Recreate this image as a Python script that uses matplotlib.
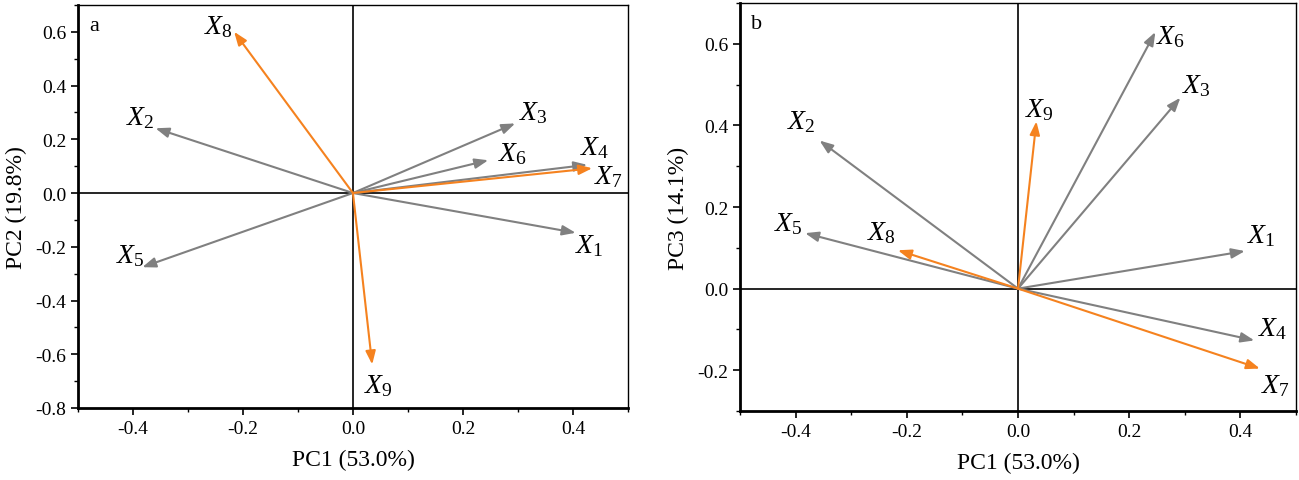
import matplotlib
matplotlib.use("Agg")
import matplotlib.pyplot as plt
from matplotlib.ticker import MultipleLocator

plt.rcParams['font.family'] = ['Liberation Serif', 'DejaVu Serif']
plt.rcParams['mathtext.fontset'] = 'custom'
plt.rcParams['mathtext.it'] = 'Liberation Serif:italic'
plt.rcParams['mathtext.rm'] = 'Liberation Serif'
plt.rcParams['axes.unicode_minus'] = False

# loadings
names = ["X1", "X2", "X3", "X4", "X5", "X6", "X7", "X8", "X9"]
pc1_a = [0.405, -0.359, 0.295, 0.426, -0.383, 0.246, 0.435, -0.216, 0.035]
pc2_a = [-0.148, 0.241, 0.259, 0.105, -0.276, 0.122, 0.092, 0.600, -0.638]
pc1_b = [0.408, -0.357, 0.292, 0.425, -0.383, 0.247, 0.435, -0.216, 0.033]
pc3_b = [0.092, 0.363, 0.468, -0.127, 0.136, 0.629, -0.196, 0.094, 0.410]
# label positions (data units)
lab_a = [(0.43, -0.195), (-0.386, 0.281), (0.329, 0.30), (0.439, 0.17), (-0.405, -0.233),
         (0.29, 0.15), (0.464, 0.064), (-0.244, 0.62), (0.046, -0.715)]
lab_b = [(0.437, 0.13), (-0.39, 0.41), (0.32, 0.50), (0.458, -0.098), (-0.413, 0.16),
         (0.275, 0.62), (0.463, -0.237), (-0.246, 0.139), (0.039, 0.44)]
orange_vars = ["X7", "X8", "X9"]

GREY = "#808080"
ORANGE = "#f5821f"

fig = plt.figure(figsize=(12.99, 4.81), dpi=100)
ax1 = fig.add_axes([0.060, 0.1497, 0.4234, 0.838])
ax2 = fig.add_axes([0.5697, 0.1435, 0.428, 0.848])


def draw(ax, xs, ys, labs, ylabel, tag, ylim, ymajor):
    ax.set_xlim(-0.5, 0.5)
    ax.set_ylim(*ylim)
    ax.axhline(0, color="black", lw=1.2, zorder=1)
    ax.axvline(0, color="black", lw=1.2, zorder=1)
    for n, x, y, (lx, ly) in zip(names, xs, ys, labs):
        c = ORANGE if n in orange_vars else GREY
        ax.annotate("", xy=(x, y), xytext=(0, 0),
                    arrowprops=dict(arrowstyle="-|>,head_length=0.8,head_width=0.3",
                                    color=c, lw=1.5, shrinkA=0, shrinkB=0), zorder=3)
        ax.text(lx, ly, r"$\mathit{X_{%s}}$" % n[1:], fontsize=20,
                ha="center", va="center", zorder=4)
    ax.text(0.03, 0.95, tag, transform=ax.transAxes, fontsize=16, va="center", ha="center")
    ax.xaxis.set_major_locator(MultipleLocator(0.2))
    ax.xaxis.set_minor_locator(MultipleLocator(0.1))
    ax.yaxis.set_major_locator(MultipleLocator(ymajor))
    ax.yaxis.set_minor_locator(MultipleLocator(0.1))
    ax.xaxis.set_major_formatter(lambda v, p: "%.1f" % v)
    ax.yaxis.set_major_formatter(lambda v, p: "%.1f" % v)
    ax.tick_params(which="major", direction="out", length=5, width=1.2, labelsize=14)
    ax.tick_params(which="minor", direction="out", length=3, width=1.0)
    ax.spines["left"].set_linewidth(2)
    ax.spines["bottom"].set_linewidth(2)
    ax.spines["top"].set_linewidth(1)
    ax.spines["right"].set_linewidth(1)
    ax.set_xlabel("PC1 (53.0%)", fontsize=17, labelpad=9)
    ax.set_ylabel(ylabel, fontsize=17, labelpad=6)


draw(ax1, pc1_a, pc2_a, lab_a, "PC2 (19.8%)", "a", (-0.8, 0.7), 0.2)
draw(ax2, pc1_b, pc3_b, lab_b, "PC3 (14.1%)", "b", (-0.3, 0.7), 0.2)

fig.savefig("out.png", dpi=100)
